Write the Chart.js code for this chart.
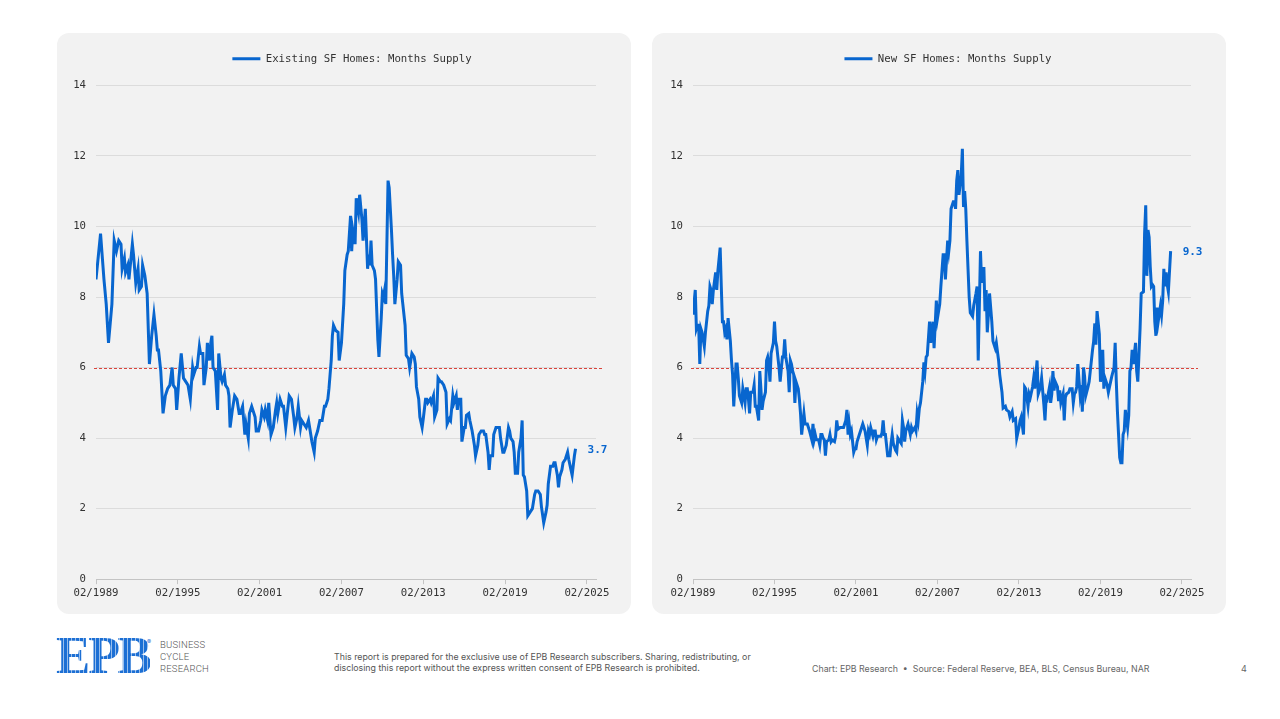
<!DOCTYPE html>
<html>
<head>
<meta charset="utf-8">
<script src="https://cdn.jsdelivr.net/npm/chart.js@4.4.1/dist/chart.umd.min.js"></script>
<style>
  html, body { margin: 0; padding: 0; background: #ffffff; width: 1280px; height: 719px; overflow: hidden; font-family: Inter, 'Noto Sans', sans-serif; }
  .panel { position: absolute; top: 33px; width: 574px; height: 581px; background: #f2f2f2; border-radius: 12px; }
  #p1 { left: 57px; }
  #p2 { left: 652px; }
  .wrap { position: absolute; left: 0; top: 0; width: 574px; height: 581px; }
  .logo { position: absolute; left: 56px; top: 630px; font-family: 'Liberation Serif', serif; font-weight: bold; font-size: 52px; line-height: 52px; letter-spacing: -2.5px;
          background: repeating-linear-gradient(90deg, #1c6fd4 0 3px, rgba(28,111,212,0.45) 3px 4px); -webkit-background-clip: text; background-clip: text; color: transparent; }
  .reg { position: absolute; left: 147px; top: 638px; font-size: 6px; color: #1c6fd4; }
  .bcr { position: absolute; left: 160px; top: 639px; font-family: Roboto, sans-serif; font-weight: 300; font-size: 9.5px; line-height: 12px; color: #555; letter-spacing: 0.2px; }
  .disc { position: absolute; left: 334px; top: 651px; font-size: 8.8px; line-height: 11px; color: #555; }
  .src { position: absolute; left: 812px; top: 663px; font-size: 8.8px; line-height: 11px; color: #666; }
  .page { position: absolute; left: 1241px; top: 663px; font-size: 9px; line-height: 11px; color: #666; }
</style>
</head>
<body>
<div class="panel" id="p1"><div class="wrap"><canvas id="c1"></canvas></div></div>
<div class="panel" id="p2"><div class="wrap"><canvas id="c2"></canvas></div></div>

<div class="logo">EPB</div>
<div class="reg">®</div>
<div class="bcr">BUSINESS<br>CYCLE<br>RESEARCH</div>
<div class="disc">This report is prepared for the exclusive use of EPB Research subscribers. Sharing, redistributing, or<br>disclosing this report without the express written consent of EPB Research is prohibited.</div>
<div class="src">Chart: EPB Research &nbsp;•&nbsp; Source: Federal Reserve, BEA, BLS, Census Bureau, NAR</div>
<div class="page">4</div>

<script>
// x values: months since 02/1989
const xTickLabels = ['02/1989', '02/1995', '02/2001', '02/2007', '02/2013', '02/2019', '02/2025'];
const TICK_STEP = 72;
const THRESHOLD = 6;

const existingLabel = 'Existing SF Homes: Months Supply';
const existingMonths = [0,4,7,9,11,14,16,18,20,22,23,25,26,28,29,32,33,35,37,38,40,41,43,45,47,49,51,53,54,55,57,59,61,63,65,67,68,70,71,73,75,77,79,81,83,85,86,88,89,91,92,94,95,97,98,100,101,102,103,105,107,108,110,111,113,114,116,117,118,120,122,124,126,127,129,131,132,134,135,137,138,140,141,143,145,146,148,149,151,152,154,156,158,159,160,162,164,165,167,168,170,172,174,175,177,178,180,181,183,185,187,188,190,192,193,195,197,199,201,202,204,205,207,208,209,211,213,214,216,218,219,221,222,224,225,226,228,229,231,232,234,235,237,239,240,241,242,243,245,246,248,249,251,252,253,254,255,257,258,260,261,262,263,265,266,268,269,270,272,273,275,276,278,280,281,282,284,285,287,288,290,291,292,294,295,297,298,300,301,303,304,306,308,309,311,312,314,315,317,318,319,321,322,324,325,326,328,329,331,333,334,336,337,339,341,342,343,345,346,347,349,350,352,353,355,356,358,359,361,363,364,365,367,368,369,371,372,374,375,376,377,379,380,382,384,386,387,389,391,392,394,396,397,398,400,402,403,404,406,407,408,410,411,413,415,416,418,419,421,422];
const existingValues = [8.5,9.8,8.5,7.8,6.7,7.8,9.6,9.3,9.6,9.5,8.8,9.1,8.7,8.9,8.5,9.5,9.2,8.4,8.8,8.2,8.3,8.9,8.6,8.1,6.1,6.9,7.5,6.9,6.5,6.5,5.9,4.7,5.2,5.4,5.5,6.0,5.5,5.4,4.8,5.7,6.4,5.7,5.6,5.5,5.1,6.0,5.8,6.0,6.0,6.6,6.4,6.4,5.5,6.0,6.7,6.2,6.7,6.9,6.0,5.9,4.8,6.4,5.7,5.6,5.8,5.5,5.4,5.2,4.3,4.8,5.2,5.1,4.7,4.7,4.9,4.1,4.4,4.0,4.7,4.9,4.8,4.6,4.2,4.2,4.5,4.8,4.6,4.8,4.5,5.0,4.1,4.3,4.8,5.0,4.7,5.1,4.9,4.9,4.3,4.6,5.2,5.1,4.6,4.3,4.6,4.9,4.3,4.5,4.4,4.3,4.5,4.3,3.9,3.6,4.0,4.2,4.5,4.5,4.9,4.9,5.1,5.4,6.2,6.9,7.2,7.05,7.0,6.2,6.7,7.8,8.75,9.2,9.3,10.3,9.3,9.9,9.5,10.8,10.4,10.9,10.2,9.6,10.5,8.8,9.2,8.9,9.6,8.9,8.75,8.5,6.8,6.3,7.4,8.1,8.0,8.2,7.8,11.3,11.1,9.9,9.2,8.6,7.8,8.5,9.0,8.9,8.1,7.8,7.2,6.35,6.25,6.0,6.4,6.3,6.1,5.45,5.1,4.6,4.3,4.55,5.1,5.1,5.0,5.1,5.0,5.2,4.6,4.8,5.7,5.6,5.6,5.5,5.3,4.4,4.55,4.5,5.2,5.0,5.2,4.8,5.1,5.1,3.9,4.3,4.3,4.65,4.7,4.5,4.2,3.8,3.5,3.8,4.1,4.2,4.2,4.1,4.1,3.6,3.1,3.5,3.5,4.1,4.3,4.3,4.3,4.0,3.6,3.6,3.8,4.3,4.2,4.0,3.9,3.6,3.0,3.0,3.6,4.0,4.5,2.95,2.9,2.5,1.8,1.9,2.0,2.4,2.5,2.5,2.4,2.05,1.6,1.9,2.1,2.7,3.2,3.2,3.3,3.3,2.95,2.6,2.9,3.1,3.3,3.4,3.6,3.4,3.1,2.95,3.5,3.7];

const newLabel = 'New SF Homes: Months Supply';
const newMonths = [0,2,3,4,5,6,7,8,10,11,13,14,15,16,17,18,20,21,22,24,25,26,27,28,29,30,31,33,34,35,36,38,39,40,41,43,44,46,47,48,49,50,51,53,54,55,56,58,59,60,61,62,64,65,66,67,68,69,71,72,73,74,76,77,79,80,81,82,84,85,86,87,88,89,90,91,93,94,95,96,98,99,101,102,103,105,106,107,108,109,111,112,113,114,115,116,117,118,120,121,122,123,125,126,127,128,130,131,133,134,135,136,137,138,139,140,142,143,144,145,147,148,150,151,152,154,155,156,157,159,160,161,162,163,164,166,167,168,169,170,172,173,174,175,176,177,179,180,181,182,184,185,186,187,188,190,191,192,193,194,196,197,198,199,200,201,203,204,205,206,207,209,210,212,213,215,216,218,219,221,222,223,225,226,227,228,230,231,232,233,234,235,237,238,239,240,241,242,244,245,247,248,250,251,252,254,255,257,258,259,260,261,262,264,265,267,268,270,271,273,274,276,277,279,280,282,283,285,286,288,289,290,292,293,294,296,297,298,300,301,302,304,305,307,308,310,311,312,313,315,316,317,318,319,320,322,323,324,325,327,328,329,330,332,333,335,336,337,338,339,340,342,343,344,345,346,347,349,350,351,353,354,355,356,357,359,360,361,362,363,364,366,367,368,369,370,372,373,374,375,376,377,378,379,380,381,382,384,385,386,387,388,389,391,392,393,394,395,396,398,399,400,401,402,403,404,405,406,407,408,409,410,411,413,414,415,416,417,418,419,420,422];
const newValues = [7.5,8.2,7.1,7.2,7.2,6.1,7.1,7.0,6.6,7.0,7.6,7.75,8.3,8.2,7.8,8.2,8.7,8.2,8.75,9.4,8.3,7.3,7.3,7.0,7.1,6.8,7.4,6.75,6.2,5.8,4.9,6.1,6.1,5.7,5.2,5.0,5.4,5.0,5.4,5.4,5.1,4.7,5.3,5.3,5.5,4.9,4.9,4.5,5.9,5.4,4.8,5.05,5.3,6.2,6.3,6.1,5.6,6.4,6.7,7.3,6.75,6.6,6.0,5.6,6.3,6.3,6.8,6.3,5.9,5.3,6.2,6.1,5.9,5.8,5.0,5.6,5.4,5.1,4.7,4.1,4.7,4.4,4.4,4.3,4.2,3.95,4.4,3.95,4.1,3.95,3.95,3.8,4.1,4.1,4.0,3.95,3.5,3.9,3.95,4.1,3.9,3.95,3.9,4.05,4.5,4.25,4.3,4.3,4.3,4.4,4.5,4.8,4.1,4.4,4.1,4.2,3.6,3.7,3.7,3.9,4.1,4.2,4.4,4.3,4.2,3.8,4.2,4.1,4.3,4.05,4.2,4.2,3.95,4.05,4.05,4.05,4.15,4.5,4.1,4.1,3.5,3.5,3.5,3.85,4.1,3.85,3.65,3.6,4.0,3.95,3.85,4.5,4.3,3.9,4.2,4.4,4.25,4.1,4.3,4.2,4.3,4.2,4.7,4.5,4.85,5.0,5.6,6.15,5.9,6.3,6.35,7.3,6.7,7.3,6.55,7.9,7.4,7.8,8.3,9.2,9.2,8.5,9.6,9.3,9.6,10.5,10.7,10.7,10.5,11.3,11.6,10.9,11.45,12.2,10.55,11.0,10.5,9.6,8.0,7.55,7.45,7.75,8.1,8.3,6.2,9.3,8.4,8.85,7.6,8.2,7.0,7.5,8.1,7.3,6.75,6.55,6.7,6.2,5.8,5.3,4.85,4.9,4.8,4.75,4.6,4.75,4.5,4.55,4.0,4.3,4.5,4.6,4.1,5.45,5.4,4.9,5.25,5.15,5.45,5.7,5.4,6.2,5.25,5.45,5.7,4.95,4.5,5.15,5.1,5.45,5.0,5.25,5.9,5.35,5.6,5.45,5.05,5.35,5.0,5.25,4.5,5.15,5.25,5.3,5.4,5.4,5.0,5.25,5.3,5.45,6.1,5.25,5.5,4.75,6.0,5.75,5.2,5.45,5.6,5.9,6.5,6.75,7.25,6.65,7.6,6.95,5.6,5.8,6.5,5.4,5.7,5.5,5.3,5.45,5.6,5.75,6.0,6.7,5.6,4.75,4.1,3.45,3.3,3.3,4.1,4.2,4.8,4.3,4.65,5.9,6.0,6.5,6.1,6.7,5.9,5.6,6.35,7.1,8.1,8.15,9.8,10.6,8.6,9.9,9.7,8.85,8.3,8.35,8.3,7.3,6.9,7.7,7.3,7.75,7.5,7.9,8.8,8.3,8.7,8.35,8.15,9.3];

const BLUE = '#0866cf';
const MONO = "'DejaVu Sans Mono', 'Liberation Mono', monospace";
const FONT = { family: MONO, size: 10.7 };

const overlayPlugin = {
  id: 'overlay',
  afterLayout(chart) {
    // nudge the legend slightly right, as in the original layout
    if (chart.legend) { chart.legend.left += 6; chart.legend.right += 6; }
  },
  beforeDatasetsDraw(chart) {
    const { ctx, chartArea, scales } = chart;
    const py = Math.round(scales.y.getPixelForValue(THRESHOLD)) + 0.5;
    ctx.save();
    ctx.strokeStyle = '#d9443c';
    ctx.lineWidth = 1;
    ctx.setLineDash([3, 2]);
    ctx.beginPath();
    ctx.moveTo(chartArea.left - 2, py);
    ctx.lineTo(chartArea.right + 7, py);
    ctx.stroke();
    ctx.restore();
  },
  afterDatasetsDraw(chart) {
    const { ctx } = chart;
    const meta = chart.getDatasetMeta(0);
    const pt = meta.data[meta.data.length - 1];
    const ds = chart.data.datasets[0].data;
    const v = ds[ds.length - 1].y;
    ctx.save();
    ctx.font = 'bold 11px ' + MONO;
    ctx.fillStyle = BLUE;
    ctx.textBaseline = 'middle';
    ctx.textAlign = 'left';
    ctx.fillText(v.toFixed(1), pt.x + 12, pt.y + 1);
    ctx.restore();
  }
};

function makeChart(id, label, months, values, yWidth) {
  const points = months.map((m, i) => ({ x: m, y: values[i] }));
  return new Chart(document.getElementById(id), {
    type: 'line',
    data: { datasets: [{ label, data: points, borderColor: BLUE, backgroundColor: BLUE, borderWidth: 3, pointRadius: 0, tension: 0, fill: false }] },
    options: {
      responsive: true,
      maintainAspectRatio: false,
      animation: false,
      events: [],
      layout: { padding: { top: 0, right: 35, bottom: 11, left: 0 } },
      plugins: {
        legend: {
          display: true,
          position: 'top',
          fullSize: false,
          labels: {
            boxWidth: 28,
            boxHeight: 3,
            padding: 20.5,
            color: '#333',
            font: FONT,
            generateLabels(chart) {
              const items = Chart.defaults.plugins.legend.labels.generateLabels(chart);
              items.forEach(it => { it.lineWidth = 0; it.fillStyle = BLUE; it.strokeStyle = BLUE; });
              return items;
            }
          }
        },
        subtitle: {
          display: true,
          text: '',
          weight: 500,
          font: { size: 1 },
          padding: { top: 0, bottom: 10 }
        },
        tooltip: { enabled: false }
      },
      scales: {
        x: {
          type: 'linear',
          min: 0,
          max: 440,
          ticks: {
            stepSize: TICK_STEP,
            includeBounds: false,
            autoSkip: false,
            maxRotation: 0,
            color: '#333',
            font: FONT,
            padding: 3,
            callback: (v) => xTickLabels[Math.round(v / TICK_STEP)]
          },
          grid: { drawOnChartArea: false, tickLength: 5, color: '#c4c4c4' },
          border: { color: '#c4c4c4' }
        },
        y: {
          min: 0,
          max: 14,
          ticks: { stepSize: 2, color: '#333', font: FONT, padding: 10 },
          grid: { color: '#dcdcdc', drawTicks: false },
          border: { display: false },
          afterFit: (s) => { s.width = yWidth; }
        }
      }
    },
    plugins: [overlayPlugin]
  });
}

makeChart('c1', existingLabel, existingMonths, existingValues, 39);
makeChart('c2', newLabel, newMonths, newValues, 41);
</script>
</body>
</html>
